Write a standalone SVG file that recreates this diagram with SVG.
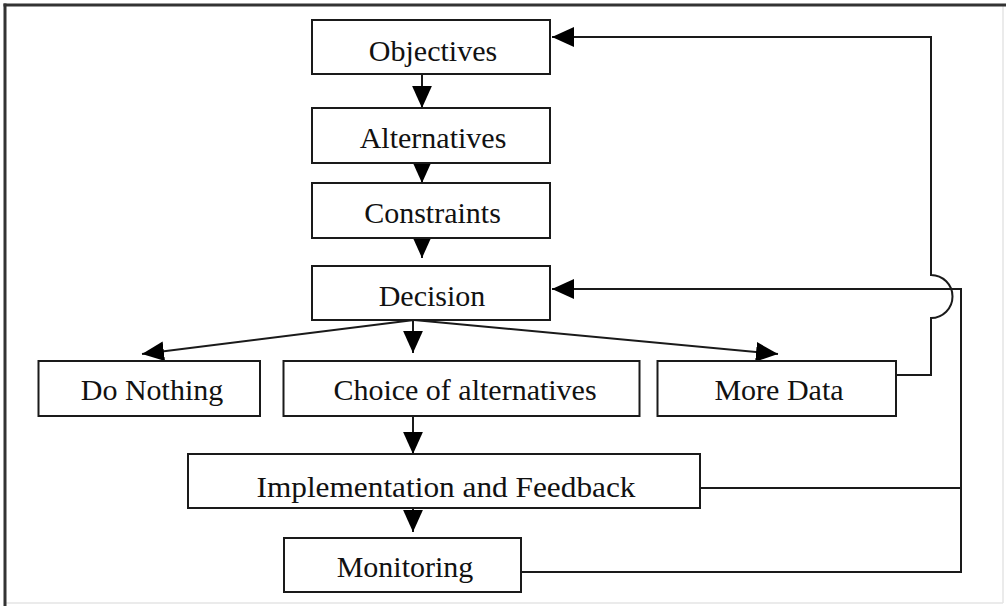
<svg xmlns="http://www.w3.org/2000/svg" width="1006" height="606" viewBox="0 0 1006 606">
  <style>
    .box { fill: #ffffff; stroke: #1a1a1a; stroke-width: 2; }
    .lbl { font-family: "Liberation Serif", "Times New Roman", serif; font-size: 30px; fill: #111; text-anchor: middle; }
    .ln { fill: none; stroke: #1a1a1a; stroke-width: 2; }
  </style>
  <defs>
    <marker id="arr" markerUnits="userSpaceOnUse" markerWidth="22" markerHeight="20" viewBox="0 0 20 18" refX="20" refY="9" orient="auto">
      <path d="M0,0 L20,9 L0,18 Z" fill="#000"/>
    </marker>
  </defs>
  <rect x="0" y="0" width="1006" height="606" fill="#ffffff"/>
  <g id="frame">
    <line x1="1003" y1="5" x2="1003" y2="603" stroke="#e4e4e4" stroke-width="1.5"/>
    <line x1="5" y1="603" x2="1003" y2="603" stroke="#e4e4e4" stroke-width="1.5"/>
    <line x1="3.5" y1="5" x2="1006" y2="5" stroke="#333" stroke-width="3"/>
    <line x1="5" y1="3.5" x2="5" y2="606" stroke="#333" stroke-width="3"/>
  </g>
  <g id="connectors">
    <line class="ln" x1="422" y1="74" x2="422" y2="108" marker-end="url(#arr)"/>
    <line class="ln" x1="422" y1="163" x2="422" y2="183" marker-end="url(#arr)"/>
    <line class="ln" x1="422" y1="238" x2="422" y2="258" marker-end="url(#arr)"/>
    <line class="ln" x1="414" y1="320" x2="142" y2="354" marker-end="url(#arr)"/>
    <line class="ln" x1="413" y1="320" x2="413" y2="353" marker-end="url(#arr)"/>
    <line class="ln" x1="414" y1="320" x2="778" y2="354" marker-end="url(#arr)"/>
    <line class="ln" x1="413" y1="416" x2="413" y2="454" marker-end="url(#arr)"/>
    <line class="ln" x1="413" y1="508" x2="413" y2="532" marker-end="url(#arr)"/>
    <path class="ln" d="M896,375 H931 V318 A21.5,21.5 0 0 0 931,275 V37 H552" marker-end="url(#arr)"/>
    <path class="ln" d="M700,488 H961"/>
    <path class="ln" d="M521,572 H961 V289 H552" marker-end="url(#arr)"/>
  </g>
  <g id="objectives">
    <rect class="box" x="312" y="20" width="238" height="54"/>
    <text class="lbl" x="433" y="61">Objectives</text>
  </g>
  <g id="alternatives">
    <rect class="box" x="312" y="108" width="238" height="55"/>
    <text class="lbl" x="433" y="148">Alternatives</text>
  </g>
  <g id="constraints">
    <rect class="box" x="312" y="183" width="238" height="55"/>
    <text class="lbl" x="432.5" y="223">Constraints</text>
  </g>
  <g id="decision">
    <rect class="box" x="312" y="266" width="238" height="54"/>
    <text class="lbl" x="432" y="306">Decision</text>
  </g>
  <g id="do-nothing">
    <rect class="box" x="38.5" y="361" width="221.5" height="55"/>
    <text class="lbl" x="152" y="400">Do Nothing</text>
  </g>
  <g id="choice">
    <rect class="box" x="283.5" y="361" width="356" height="55"/>
    <text class="lbl" x="465" y="400">Choice of alternatives</text>
  </g>
  <g id="more-data">
    <rect class="box" x="657.5" y="361" width="238.5" height="55"/>
    <text class="lbl" x="779" y="400">More Data</text>
  </g>
  <g id="implementation">
    <rect class="box" x="188" y="454" width="512" height="54"/>
    <text class="lbl" x="446" y="497" textLength="379" lengthAdjust="spacingAndGlyphs">Implementation and Feedback</text>
  </g>
  <g id="monitoring">
    <rect class="box" x="284" y="538" width="237" height="54"/>
    <text class="lbl" x="405" y="577">Monitoring</text>
  </g>
</svg>
